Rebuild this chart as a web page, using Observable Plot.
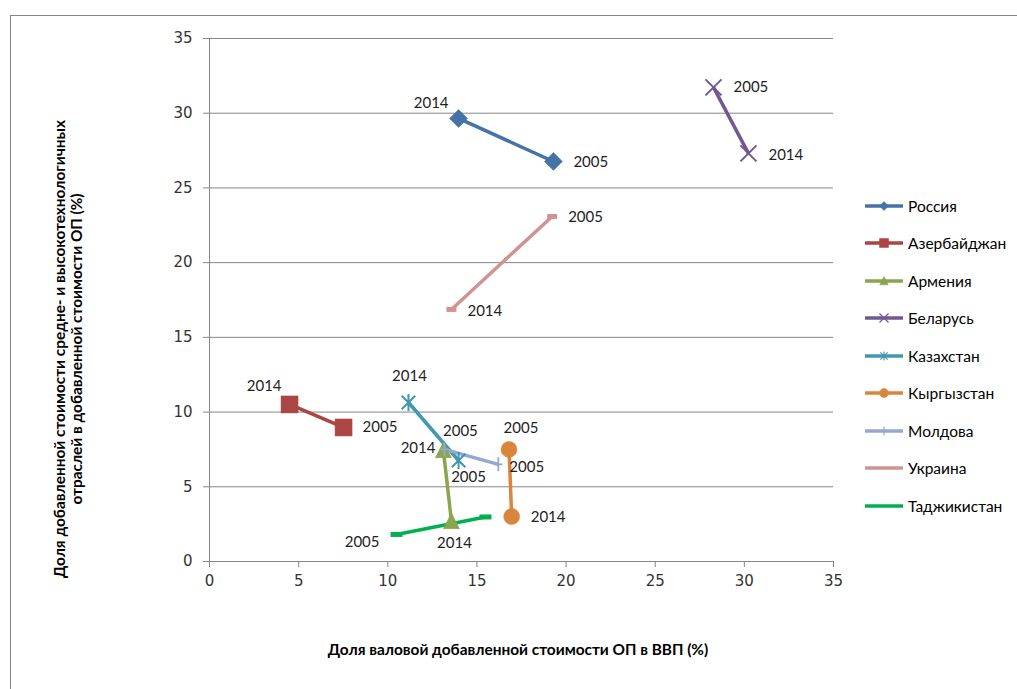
<!DOCTYPE html>
<html>
<head>
<meta charset="utf-8">
<script src="https://cdn.jsdelivr.net/npm/d3@7"></script>
<script src="https://cdn.jsdelivr.net/npm/@observablehq/plot@0.6"></script>
<style>
  html, body { margin: 0; padding: 0; background: #fff; }
  #wrap { position: relative; width: 1017px; height: 689px; overflow: hidden; font-family: Lato, "Open Sans", sans-serif; }
  #frame { position: absolute; left: 10px; top: 15px; width: 1100px; height: 800px; border-left: 1px solid #868686; border-top: 1px solid #868686; }
  #chart { position: absolute; left: 0; top: 0; }
  #ytitle { position: absolute; left: 68px; top: 349px; transform: translate(-50%, -50%) rotate(-90deg); white-space: nowrap; text-align: center; font-weight: bold; font-size: 15.4px; line-height: 17px; color: #000; }
  #xtitle { position: absolute; left: 518px; top: 649px; transform: translate(-50%, -50%); white-space: nowrap; font-weight: bold; font-size: 15.4px; color: #000; }
  #legend { position: absolute; left: 864px; top: 187px; }
  .lg { display: flex; align-items: center; height: 37.5px; font-size: 15.5px; color: #000; }
  .lg svg { margin-right: 4px; }
</style>
</head>
<body>
<div id="wrap">
  <div id="frame"></div>
  <div id="chart"></div>
  <div id="ytitle">Доля добавленной стоимости средне- и высокотехнологичных<br>отраслей в добавленной стоимости ОП (%)</div>
  <div id="xtitle">Доля валовой добавленной стоимости ОП в ВВП (%)</div>
  <div id="legend"></div>
</div>
<script>
// ---- Data ----
const countries = ["Россия", "Азербайджан", "Армения", "Беларусь", "Казахстан", "Кыргызстан", "Молдова", "Украина", "Таджикистан"];
const colors    = ["#4572A7", "#AA4643", "#89A54E", "#71588F", "#4198AF", "#DB843D", "#93A9CF", "#D19392", "#00B050"];
const years = ["2005", "2014"];
const x2005 = [19.29, 7.52, 13.12, 28.27, 13.97, 16.80, 16.20, 19.22, 10.49];
const y2005 = [26.77, 8.97, 7.43, 31.73, 6.76, 7.50, 6.50, 23.09, 1.81];
const x2014 = [13.97, 4.49, 13.57, 30.23, 11.16, 16.95, 13.18, 13.57, 15.48];
const y2014 = [29.65, 10.51, 2.68, 27.31, 10.64, 3.01, 7.50, 16.87, 2.98];
const xTicks = [0, 5, 10, 15, 20, 25, 30, 35];
const yTicks = [0, 5, 10, 15, 20, 25, 30, 35];
// which points carry a data label (Таджикистан 2014 has none)
const labelled2005 = [true, true, true, true, true, true, true, true, true];
const labelled2014 = [true, true, true, true, true, true, true, true, false];

// ---- Styles ----
function sym(kind) {
  return {
    draw(ctx, size) {
      const r = Math.sqrt(size / Math.PI);
      if (kind === "diamond") { ctx.moveTo(0, -r); ctx.lineTo(r, 0); ctx.lineTo(0, r); ctx.lineTo(-r, 0); ctx.closePath(); }
      else if (kind === "square") { ctx.moveTo(-r, -r); ctx.lineTo(r, -r); ctx.lineTo(r, r); ctx.lineTo(-r, r); ctx.closePath(); }
      else if (kind === "triangle") { ctx.moveTo(0, -r); ctx.lineTo(r * 0.95, r * 0.85); ctx.lineTo(-r * 0.95, r * 0.85); ctx.closePath(); }
      else if (kind === "circle") { ctx.moveTo(r, 0); ctx.arc(0, 0, r, 0, 2 * Math.PI); ctx.closePath(); }
      else if (kind === "times") { ctx.moveTo(-r, -r); ctx.lineTo(r, r); ctx.moveTo(r, -r); ctx.lineTo(-r, r); }
      else if (kind === "star") { const a = r * 0.8; ctx.moveTo(-a, -a); ctx.lineTo(a, a); ctx.moveTo(a, -a); ctx.lineTo(-a, a); ctx.moveTo(0, -r); ctx.lineTo(0, r); }
      else if (kind === "plus") { ctx.moveTo(0, -r); ctx.lineTo(0, r); ctx.moveTo(-r * 0.6, 0); ctx.lineTo(r * 0.6, 0); }
      else if (kind === "dash") { ctx.moveTo(-r, 0); ctx.lineTo(r, 0); }
    }
  };
}
const markerKind = ["diamond", "square", "triangle", "times", "star", "circle", "plus", "dash", "dash"];
const markerR    = [9, 8.5, 8.5, 8, 8.5, 8, 7, 5, 6];
const filled = k => ["diamond", "square", "triangle", "circle"].includes(k);
const strokeW = {times: 2, star: 2, plus: 1.8, dash: 5};

// label placement: [dx, dy, anchor]
const place2005 = [[20, 1, "start"], [19, 0, "start"], [17, -19, "middle"], [20, 0, "start"], [10, 17, "middle"], [12, -21, "middle"], [11, 3, "start"], [16, 1, "start"], [-17, 8, "end"]];
const place2014 = [[-10, -15, "end"], [-8, -18, "end"], [3, 22, "middle"], [20, 2, "start"], [1, -26, "middle"], [19, 1, "start"], [-9, -1, "end"], [16, 2, "start"], [0, 0, "start"]];

// ---- Build table ----
const rows = [];
countries.forEach((c, i) => {
  rows.push({country: c, i, year: years[0], x: x2005[i], y: y2005[i], lab: labelled2005[i], pl: place2005[i]});
  rows.push({country: c, i, year: years[1], x: x2014[i], y: y2014[i], lab: labelled2014[i], pl: place2014[i]});
});

const marks = [
  Plot.ruleY(yTicks, {y: d => d, stroke: "#868686", strokeWidth: 1}),
  Plot.ruleX([0], {stroke: "#868686"}),
  Plot.axisY(yTicks, {tickSize: 6, tickPadding: 11, stroke: "#868686", fill: "#333", fontSize: 15, fontFamily: "DejaVu Sans", label: null}),
  Plot.axisX(xTicks, {tickSize: 6, tickPadding: 8, stroke: "#868686", fill: "#333", fontSize: 15, fontFamily: "DejaVu Sans", label: null}),
  Plot.line(rows, {x: "x", y: "y", z: "country", stroke: "country", strokeWidth: 3.5, strokeLinecap: "butt"})
];
countries.forEach((c, i) => {
  const k = markerKind[i];
  const data = rows.filter(d => d.i === i);
  marks.push(Plot.dot(data, {
    x: "x", y: "y", symbol: sym(k), r: markerR[i],
    fill: filled(k) ? colors[i] : "none",
    stroke: colors[i],
    strokeWidth: filled(k) ? 0.5 : strokeW[k]
  }));
});
rows.filter(d => d.lab).forEach(d => {
  marks.push(Plot.text([d], {x: "x", y: "y", text: "year", dx: d.pl[0], dy: d.pl[1], textAnchor: d.pl[2], fontSize: 15, fill: "#222"}));
});

const chart = Plot.plot({
  width: 1017, height: 689,
  marginLeft: 209, marginRight: 184, marginTop: 38, marginBottom: 128,
  style: {fontFamily: "Lato, sans-serif", background: "transparent"},
  x: {domain: [0, 35]},
  y: {domain: [0, 35]},
  color: {domain: countries, range: colors},
  marks
});
document.getElementById("chart").appendChild(chart);

// ---- Legend ----
const lg = document.getElementById("legend");
countries.forEach((c, i) => {
  const row = document.createElement("div");
  row.className = "lg";
  const k = markerKind[i];
  const p = d3.path();
  const rr = k === "dash" ? 0 : 4.5;
  if (rr > 0) sym(k).draw(p, rr * rr * Math.PI);
  const ns = "http://www.w3.org/2000/svg";
  const s = document.createElementNS(ns, "svg");
  s.setAttribute("width", 40); s.setAttribute("height", 12);
  s.innerHTML = `<line x1="1" x2="39" y1="6" y2="6" stroke="${colors[i]}" stroke-width="3.5"/>` +
    (rr > 0 ? `<path transform="translate(20,6)" d="${p.toString()}" fill="${filled(k) ? colors[i] : "none"}" stroke="${colors[i]}" stroke-width="${filled(k) ? 0.5 : 1.2}"/>` : "");
  row.appendChild(s);
  const t = document.createElement("span");
  t.textContent = c;
  row.appendChild(t);
  lg.appendChild(row);
});
</script>
</body>
</html>
